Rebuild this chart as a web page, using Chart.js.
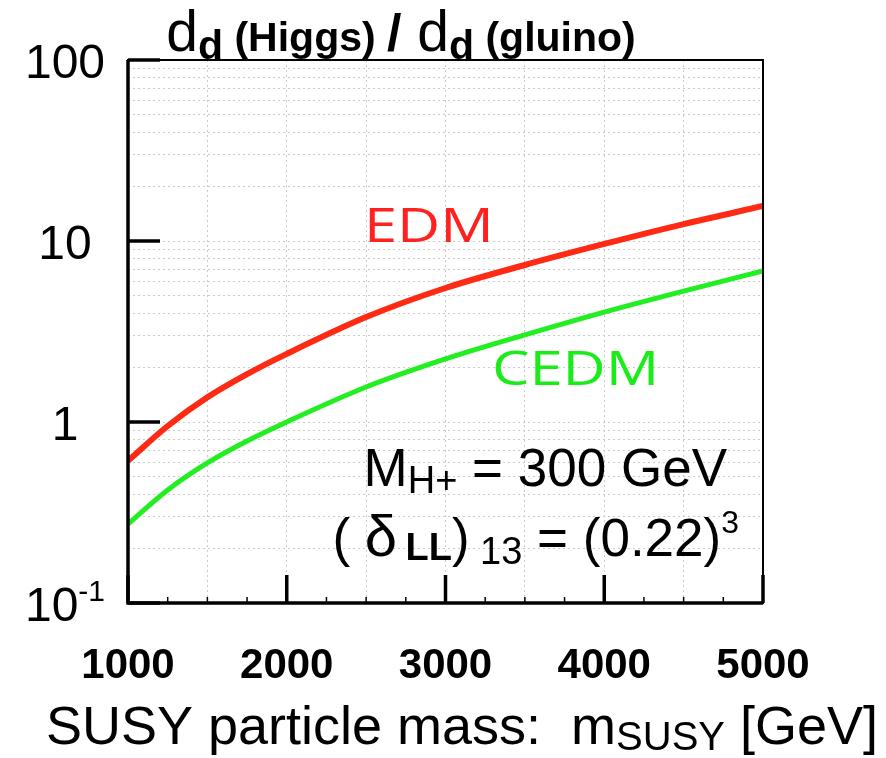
<!DOCTYPE html>
<html>
<head>
<meta charset="utf-8">
<script src="https://cdn.jsdelivr.net/npm/chart.js@4.4.0/dist/chart.umd.min.js"></script>
<style>
  html, body { margin: 0; padding: 0; background: #fff; }
  #wrap { width: 886px; height: 758px; }
</style>
</head>
<body>
<div id="wrap"><canvas id="ratio" width="886" height="758"></canvas></div>
<script>
// SUSY mass (GeV) and the two ratios d_d(Higgs)/d_d(gluino)
const masses = [1000, 1250, 1500, 1750, 2000, 2500, 3000, 3500, 4000, 4500, 5000];
const edm    = [0.61, 0.95, 1.37, 1.84, 2.38, 3.8, 5.5, 7.37, 9.63, 12.4, 15.6];
const cedm   = [0.273, 0.421, 0.594, 0.785, 1.0, 1.56, 2.23, 3.03, 4.05, 5.29, 6.83];

const xTicks = [1000, 2000, 3000, 4000, 5000];
const xTickLabels = ['1000', '2000', '3000', '4000', '5000'];
const yTicks = [0.1, 1, 10, 100];
const yTickLabels = ['10^-1', '1', '10', '100'];

const SANS = '"Liberation Sans", Arial, sans-serif';
const CURVE_FONT = '48px "Open Sans", ' + SANS;

// grid positions: every 500 GeV, and 1..9 per decade
const xGrid = [];
for (let v = 1000; v <= 5000; v += 500) xGrid.push(v);
const yGrid = [];
[0.1, 1, 10].forEach(d => { for (let k = 1; k < 10; k++) yGrid.push(+(d * k).toPrecision(3)); });
yGrid.push(100);

// draw a row of text pieces with different fonts: [text, font, dy]
function drawRuns(ctx, runs, x, y, align) {
  let total = 0;
  runs.forEach(r => { ctx.font = r[1]; total += ctx.measureText(r[0]).width; });
  let cx = align === 'center' ? x - total / 2 : align === 'right' ? x - total : x;
  ctx.textAlign = 'left';
  ctx.textBaseline = 'alphabetic';
  runs.forEach(r => {
    ctx.font = r[1];
    ctx.fillText(r[0], cx, y + (r[2] || 0));
    cx += ctx.measureText(r[0]).width;
  });
}

// wide label, stretched horizontally like the original lettering
function drawWide(ctx, text, x, y, color) {
  ctx.save();
  ctx.translate(x, y);
  ctx.scale(1.24, 1);
  ctx.fillStyle = color;
  ctx.font = CURVE_FONT;
  ctx.textAlign = 'left';
  ctx.textBaseline = 'alphabetic';
  ctx.fillText(text, 0, 0);
  ctx.restore();
}

const decorations = {
  id: 'decorations',
  afterDraw(chart) {
    const ctx = chart.ctx;
    const a = chart.chartArea;
    const xs = chart.scales.x, ys = chart.scales.y;
    ctx.save();
    ctx.fillStyle = '#000';
    ctx.strokeStyle = '#000';

    // frame
    ctx.lineWidth = 2;
    ctx.strokeRect(a.left, a.top, a.right - a.left, a.bottom - a.top);
    ctx.lineWidth = 3.5;
    ctx.beginPath();
    ctx.moveTo(a.left, a.top);
    ctx.lineTo(a.left, a.bottom);
    ctx.lineTo(a.right, a.bottom);
    ctx.stroke();

    // inward major ticks
    yTicks.forEach(v => {
      const py = ys.getPixelForValue(v);
      ctx.beginPath(); ctx.moveTo(a.left, py); ctx.lineTo(a.left + 32, py); ctx.stroke();
    });
    xTicks.forEach(v => {
      const px = xs.getPixelForValue(v);
      ctx.beginPath(); ctx.moveTo(px, a.bottom); ctx.lineTo(px, a.bottom - 28); ctx.stroke();
    });
    ctx.lineWidth = 1.5;
    for (let v = 1250; v < 5000; v += 250) {
      if (v % 1000 === 0) continue;
      const px = xs.getPixelForValue(v);
      ctx.beginPath(); ctx.moveTo(px, a.bottom); ctx.lineTo(px, a.bottom - 6); ctx.stroke();
    }

    // y tick labels, with a superscript exponent where needed
    yTicks.forEach((v, i) => {
      const py = ys.getPixelForValue(v);
      const parts = yTickLabels[i].split('^');
      const runs = [[parts[0], '48px ' + SANS, 0]];
      if (parts[1]) runs.push([parts[1], '30px ' + SANS, -20]);
      drawRuns(ctx, runs, 65, py + 18, 'center');
    });

    // title
    drawRuns(ctx, [
      ['d', '57px ' + SANS, 0],
      ['d', 'bold 41px ' + SANS, 8],
      [' (Higgs) ', 'bold 41px ' + SANS, 0],
      ['/', 'bold 52px ' + SANS, 0],
      [' d', '57px ' + SANS, 0],
      ['d', 'bold 41px ' + SANS, 8],
      [' (gluino)', 'bold 41px ' + SANS, 0]
    ], 401, 51, 'center');

    // x axis title
    drawRuns(ctx, [
      ['SUSY particle mass:  m', '54px ' + SANS, 0],
      ['SUSY', '40px ' + SANS, 6],
      [' [GeV]', '54px ' + SANS, 0]
    ], 462, 744, 'center');

    // curve labels
    drawWide(ctx, 'EDM', 364, 242, '#ff2020');
    drawWide(ctx, 'CEDM', 492, 385, '#1aec1a');

    // parameter box
    ctx.fillStyle = '#000';
    drawRuns(ctx, [
      ['M', '53px ' + SANS, 0],
      ['H+', '38px ' + SANS, 7],
      [' = 300 GeV', '53px ' + SANS, 0]
    ], 727, 486, 'right');
    drawRuns(ctx, [
      ['( ', '53px ' + SANS, 0],
      ['\u03B4', '58px ' + SANS, 0],
      [' ', '30px ' + SANS, 0],
      ['LL', 'bold 38px ' + SANS, 4],
      [')', '53px ' + SANS, 0],
      [' 13', '38px ' + SANS, 8],
      [' = (0.22)', '53px ' + SANS, 0],
      ['3', '32px ' + SANS, -23]
    ], 739, 556, 'right');

    ctx.restore();
  }
};

new Chart(document.getElementById('ratio'), {
  type: 'line',
  data: {
    datasets: [
      {
        label: 'EDM',
        data: masses.map((m, i) => ({ x: m, y: edm[i] })),
        borderColor: '#ff2a14',
        borderWidth: 6,
        pointRadius: 0,
        fill: false,
        cubicInterpolationMode: 'monotone'
      },
      {
        label: 'CEDM',
        data: masses.map((m, i) => ({ x: m, y: cedm[i] })),
        borderColor: '#22ee22',
        borderWidth: 5,
        pointRadius: 0,
        fill: false,
        cubicInterpolationMode: 'monotone'
      }
    ]
  },
  options: {
    responsive: false,
    animation: false,
    layout: { padding: { top: 60, right: 123, left: 0, bottom: 0 } },
    plugins: { legend: { display: false }, tooltip: { enabled: false } },
    scales: {
      x: {
        type: 'linear',
        min: 1000,
        max: 5000,
        afterFit: s => { s.height = 155; },
        afterBuildTicks: s => { s.ticks = xGrid.map(v => ({ value: v })); },
        ticks: {
          autoSkip: false,
          maxRotation: 0,
          padding: 38,
          color: '#000',
          font: { family: SANS, size: 42, weight: 'bold' },
          callback: v => { const i = xTicks.indexOf(v); return i >= 0 ? xTickLabels[i] : ''; }
        },
        grid: { color: '#cbcbcb', lineWidth: 1, drawTicks: false },
        border: { display: false, dash: [2, 3] }
      },
      y: {
        type: 'logarithmic',
        min: 0.1,
        max: 100,
        afterFit: s => { s.width = 128; },
        afterBuildTicks: s => { s.ticks = yGrid.map(v => ({ value: v })); },
        ticks: { display: false },
        grid: { color: '#cbcbcb', lineWidth: 1, drawTicks: false },
        border: { display: false, dash: [2, 3] }
      }
    }
  },
  plugins: [decorations]
});
</script>
</body>
</html>
